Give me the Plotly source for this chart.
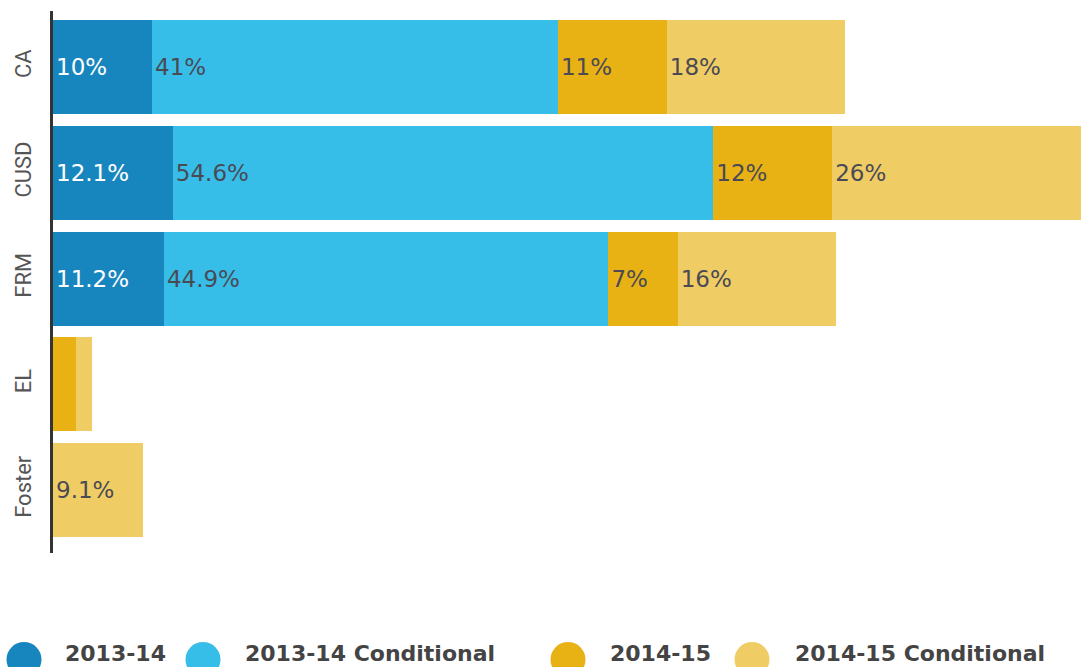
import plotly.graph_objects as go

# Share of students by group, stacked by year and status
categories = ["CA", "CUSD", "FRM", "EL", "Foster"]
series_names = ["2013-14", "2013-14 Conditional", "2014-15", "2014-15 Conditional"]
v_2013 = [10, 12.1, 11.2, None, None]
v_2013_cond = [41, 54.6, 44.9, None, None]
v_2014 = [11, 12, 7, 2.3, None]
v_2014_cond = [18, 26, 16, 1.6, 9.1]
series_values = [v_2013, v_2013_cond, v_2014, v_2014_cond]

colors = ["#1886be", "#36bee8", "#e8b214", "#f0cd64"]
label_colors = ["#ffffff", "#4a4a55", "#4a4a55", "#4a4a55"]
unlabeled = {"EL"}

# Page geometry (pixels)
W, H = 1081, 667
ML, MR, MT, MB = 53, 0, 11, 114
plot_w = W - ML - MR
plot_h = H - MT - MB


def px_x(px):
    return (px - ML) / plot_w


def px_y(py):
    return (H - MB - py) / plot_h


fig = go.Figure()
for name, vals, col, lcol in zip(series_names, series_values, colors, label_colors):
    text = [
        "" if (v is None or c in unlabeled) else f"{v:g}%"
        for c, v in zip(categories, vals)
    ]
    fig.add_trace(go.Bar(
        name=name,
        y=categories,
        x=vals,
        orientation="h",
        marker=dict(color=col, line=dict(width=0)),
        text=text,
        textposition="inside",
        insidetextanchor="start",
        constraintext="none",
        textfont=dict(family="DejaVu Sans", size=23, color=lcol),
        showlegend=False,
        hoverinfo="skip",
    ))

# Legend drawn as large circles with bold labels along the bottom
legend_items = [
    (24, 63), (203, 243), (568, 608), (752, 793),
]
shapes = []
annotations = []
for (cx, tx), name, col in zip(legend_items, series_names, colors):
    shapes.append(dict(
        type="circle", xref="paper", yref="paper",
        xsizemode="pixel", ysizemode="pixel",
        xanchor=px_x(cx), yanchor=px_y(659.5),
        x0=-17.5, x1=17.5, y0=-17.5, y1=17.5,
        fillcolor=col, line=dict(width=0), layer="above",
    ))
    annotations.append(dict(
        text=name, xref="paper", yref="paper",
        x=px_x(tx), y=px_y(653), xanchor="left", yanchor="middle",
        showarrow=False,
        font=dict(family="DejaVu Sans", size=22, color="#444444", weight="bold"),
    ))

fig.update_layout(
    barmode="stack",
    bargap=0.11,
    width=W, height=H,
    margin=dict(l=ML, r=MR, t=MT, b=MB, pad=0),
    paper_bgcolor="white",
    plot_bgcolor="white",
    shapes=shapes,
    annotations=annotations,
    xaxis=dict(
        range=[0, plot_w / 9.9],
        showgrid=False, zeroline=False, showticklabels=False,
        showline=False, ticks="",
    ),
    yaxis=dict(
        categoryorder="array", categoryarray=categories,
        range=[4.595, -0.53],
        showgrid=False, zeroline=False,
        showline=True, linecolor="#333333", linewidth=3,
        ticks="", tickangle=-90,
        tickfont=dict(family="Roboto", size=22, color="#555555"),
        ticklabelstandoff=10,
    ),
)

fig.write_html("out.html")
